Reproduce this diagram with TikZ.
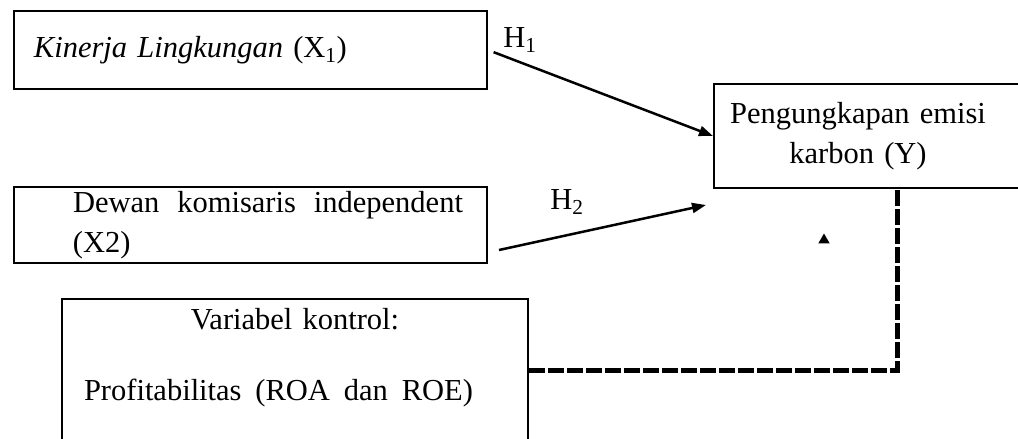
\documentclass[tikz,border=0pt]{standalone}
\usepackage{fontspec}
\setmainfont{Liberation Serif}
\usetikzlibrary{arrows.meta,calc,positioning,shapes.geometric}

\begin{document}
\begin{tikzpicture}[x=1pt, y=-1pt,
    every node/.style={font=\fontsize{30.5}{40}\selectfont},
    varbox/.style={draw, line width=2pt, inner sep=0pt, anchor=north west},
    hyp/.style={line width=2.5pt, -{Triangle[length=14pt,width=10pt]}},
    ctrlline/.style={line width=5pt, dash pattern=on 16pt off 3pt}]

    % selecting the visible part
    \useasboundingbox (0,0) rectangle (1018,439);
    \clip (0,0) rectangle (1018,439);

    % the variables
    \node[varbox, minimum width=473pt, minimum height=78pt, text width=433pt, align=left] (kl) at (13,10) {\textit{Kinerja Lingkungan} (X\textsubscript{1})};
    \node[varbox, minimum width=473pt, minimum height=76pt, text width=427pt, align=left] (dk) at (13,186) {\hspace*{36pt}\makebox[390pt][l]{Dewan\hfill komisaris\hfill independent}\\\hspace*{36pt}(X2)};
    \node[varbox, minimum width=330pt, minimum height=104pt, text width=330pt, align=left] (pk) at (713,83) {\makebox[288pt]{Pengungkapan emisi}\\\makebox[288pt]{karbon (Y)}};
    \node[varbox, minimum width=466pt, text width=466pt, inner ysep=9pt, align=center] (ctrl) at (61,298) {Variabel kontrol:\\[31pt]\hspace*{-33pt}\makebox[389pt][l]{Profitabilitas\hfill(ROA\hfill dan\hfill ROE)}\\[60pt]\mbox{}};

    % draw the hypotheses
    \coordinate (h2start) at ($(dk.south east)+(11,-14)$);
    \coordinate (h2end) at ($(pk.south west)+(-7,16)$);
    \draw[hyp, shorten <=6pt] (kl.east) -- (pk.west);
    \draw[hyp] (h2start) -- (h2end);

    % add labels
    \node (h1) at (520,40) {H\textsubscript{1}};
    \node (h2) at (567,202) {H\textsubscript{2}};
    \node[fill, regular polygon, regular polygon sides=3, inner sep=0pt, minimum size=13pt] (tri) at (824,240) {};

    % control variable link
    \draw[ctrlline] (ctrl.east |- 0,370) -| (pk.south -| 897,0);

\end{tikzpicture}
\end{document}
